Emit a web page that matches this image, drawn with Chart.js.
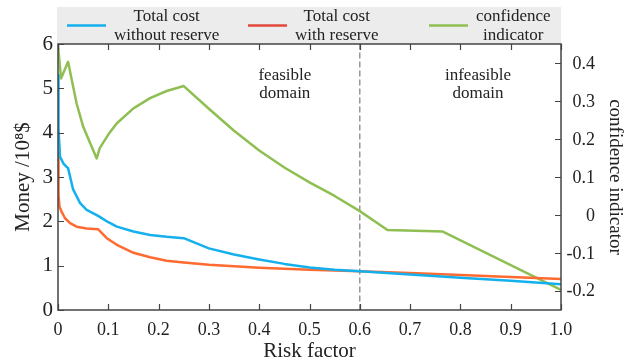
<!DOCTYPE html>
<html>
<head>
<meta charset="utf-8">
<script src="https://cdn.jsdelivr.net/npm/chart.js@4"></script>
<style>
  html, body { margin: 0; padding: 0; background: #ffffff; }
  #wrap { width: 636px; height: 364px; }
</style>
</head>
<body>
<div id="wrap"><canvas id="c" width="636" height="364"></canvas></div>
<script>
// Total cost without reserve (10^8 $) against risk factor
const riskWithout = [0, 0.001, 0.004, 0.011, 0.017, 0.02, 0.03, 0.044, 0.057, 0.077, 0.083, 0.1, 0.117, 0.15, 0.183, 0.216, 0.25, 0.3, 0.35, 0.4, 0.45, 0.5, 0.55, 0.6, 0.7, 0.8, 0.9, 1.0];
const costWithout = [5.3, 4.1, 3.46, 3.3, 3.23, 3.2, 2.72, 2.41, 2.26, 2.14, 2.1, 1.98, 1.88, 1.77, 1.69, 1.65, 1.62, 1.39, 1.25, 1.14, 1.04, 0.96, 0.91, 0.875, 0.80, 0.73, 0.66, 0.58];

// Total cost with reserve (10^8 $)
const riskWith = [0, 0.001, 0.003, 0.007, 0.014, 0.024, 0.037, 0.057, 0.08, 0.097, 0.117, 0.15, 0.183, 0.216, 0.25, 0.3, 0.35, 0.4, 0.5, 0.6, 0.7, 0.8, 0.9, 1.0];
const costWith = [3.55, 2.6, 2.33, 2.22, 2.07, 1.96, 1.88, 1.84, 1.82, 1.62, 1.47, 1.29, 1.19, 1.11, 1.07, 1.02, 0.985, 0.955, 0.91, 0.875, 0.835, 0.79, 0.745, 0.70];

// Confidence indicator (right axis)
const riskConf = [0, 0.006, 0.02, 0.037, 0.05, 0.064, 0.077, 0.083, 0.1, 0.117, 0.15, 0.183, 0.216, 0.25, 0.3, 0.35, 0.4, 0.45, 0.5, 0.55, 0.6, 0.655, 0.765, 1.0];
const confIndex = [0.448, 0.36, 0.404, 0.294, 0.233, 0.189, 0.149, 0.176, 0.212, 0.242, 0.281, 0.308, 0.327, 0.340, 0.28, 0.222, 0.17, 0.125, 0.086, 0.05, 0.01, -0.040, -0.044, -0.198];

// Boundary between feasible and infeasible domains
const boundaryRisk = 0.6;

// Tick values
const riskTicks = [0, 0.1, 0.2, 0.3, 0.4, 0.5, 0.6, 0.7, 0.8, 0.9, 1.0];
const moneyTicks = [0, 1, 2, 3, 4, 5, 6];
const confTicks = [-0.2, -0.1, 0, 0.1, 0.2, 0.3, 0.4];

// Text
const seriesLabels = ['Total cost\nwithout reserve', 'Total cost\nwith reserve', 'confidence\nindicator'];
const domainLabels = ['feasible\ndomain', 'infeasible\ndomain'];

const FONT = "'Liberation Serif', 'Times New Roman', serif";
const pairs = (xs, ys) => xs.map((x, i) => ({ x: x, y: ys[i] }));

const COLORS = {
  without: '#14b0ee',
  withRes: '#ff6a30',
  conf: '#8fbf52',
  withResLegend: '#e2493c'
};

const fmtRisk = v => (v === 1 ? '1.0' : String(Math.round(v * 10) / 10));
const fmtConf = v => String(Math.round(v * 10) / 10);
const setTicks = vals => scale => { scale.ticks = vals.map(v => ({ value: v })); };

// Frame, inward tick marks, right-hand labels, legend strip and domain captions
const decorPlugin = {
  id: 'decor',
  afterDraw(chart) {
    const { ctx, chartArea: a, scales } = chart;
    ctx.save();

    // legend strip above the plot
    ctx.fillStyle = '#ececec';
    ctx.fillRect(a.left - 1, 7, a.right - a.left + 1, a.top - 7);
    ctx.font = '17px ' + FONT;
    ctx.textBaseline = 'middle';
    ctx.textAlign = 'center';
    const items = chart.data.datasets.filter(d => !d.isGuide);
    items.forEach((ds, i) => {
      const x0 = a.left + 9 + i * 181;
      ctx.strokeStyle = ds.legendColor || ds.borderColor;
      ctx.lineWidth = 2.5;
      ctx.beginPath();
      ctx.moveTo(x0, 25.5);
      ctx.lineTo(x0 + 39, 25.5);
      ctx.stroke();
      const lines = ds.label.split('\n');
      const w = Math.max(...lines.map(t => ctx.measureText(t).width));
      const cx = x0 + 39 + 8 + w / 2;
      ctx.fillStyle = '#222';
      lines.forEach((t, j) => ctx.fillText(t, cx, 17 + j * 19));
    });

    // plot frame
    ctx.strokeStyle = '#444';
    ctx.lineWidth = 1.5;
    ctx.strokeRect(a.left, a.top, a.right - a.left, a.bottom - a.top);

    // inward tick marks
    const tl = 6;
    ctx.beginPath();
    riskTicks.forEach(v => {
      const px = Math.round(scales.x.getPixelForValue(v)) + 0.5;
      ctx.moveTo(px, a.bottom); ctx.lineTo(px, a.bottom - tl);
      ctx.moveTo(px, a.top); ctx.lineTo(px, a.top + tl);
    });
    moneyTicks.forEach(v => {
      const py = Math.round(scales.y.getPixelForValue(v)) + 0.5;
      ctx.moveTo(a.left, py); ctx.lineTo(a.left + tl, py);
    });
    confTicks.forEach(v => {
      const py = Math.round(scales.y1.getPixelForValue(v)) + 0.5;
      ctx.moveTo(a.right, py); ctx.lineTo(a.right - tl, py);
    });
    ctx.lineWidth = 1.2;
    ctx.stroke();

    // right axis tick labels, right-aligned
    ctx.font = '18px ' + FONT;
    ctx.fillStyle = '#222';
    ctx.textAlign = 'right';
    ctx.textBaseline = 'middle';
    confTicks.forEach(v => {
      ctx.fillText(fmtConf(v), a.right + 34, scales.y1.getPixelForValue(v) + 1);
    });

    // domain captions
    ctx.font = '17px ' + FONT;
    ctx.textAlign = 'center';
    const captionX = [0.451, 0.835];
    domainLabels.forEach((txt, i) => {
      const cx = scales.x.getPixelForValue(captionX[i]);
      txt.split('\n').forEach((t, j) => {
        ctx.fillText(t, cx, scales.y.getPixelForValue(5.3 - j * 0.41));
      });
    });
    ctx.restore();
  }
};

new Chart(document.getElementById('c'), {
  type: 'line',
  data: {
    datasets: [
      {
        label: seriesLabels[0],
        data: pairs(riskWithout, costWithout),
        borderColor: COLORS.without,
        borderWidth: 2.5,
        yAxisID: 'y'
      },
      {
        label: seriesLabels[1],
        data: pairs(riskWith, costWith),
        borderColor: COLORS.withRes,
        legendColor: COLORS.withResLegend,
        borderWidth: 2.5,
        yAxisID: 'y'
      },
      {
        label: seriesLabels[2],
        data: pairs(riskConf, confIndex),
        borderColor: COLORS.conf,
        borderWidth: 2.5,
        yAxisID: 'y1'
      },
      {
        label: 'boundary',
        isGuide: true,
        data: [{ x: boundaryRisk, y: 0 }, { x: boundaryRisk, y: 6 }],
        borderColor: '#888',
        borderWidth: 1.3,
        borderDash: [5, 4],
        yAxisID: 'y'
      }
    ]
  },
  options: {
    responsive: false,
    devicePixelRatio: 1,
    animation: false,
    layout: { padding: { top: 44, left: 0, right: 0, bottom: 0 } },
    elements: {
      point: { radius: 0 },
      line: { tension: 0, fill: false, borderCapStyle: 'round', borderJoinStyle: 'round' }
    },
    plugins: {
      legend: { display: false },
      tooltip: { enabled: false }
    },
    scales: {
      x: {
        type: 'linear',
        min: 0, max: 1,
        afterBuildTicks: setTicks(riskTicks),
        afterFit: s => { s.height = 54; },
        grid: { display: false, drawTicks: false },
        border: { display: false },
        ticks: { font: { family: FONT, size: 18 }, color: '#222', padding: 9, callback: fmtRisk, maxRotation: 0, autoSkip: false },
        title: { display: true, text: 'Risk factor', font: { family: FONT, size: 21 }, color: '#222', padding: { top: 0, bottom: 0 } }
      },
      y: {
        position: 'left',
        min: 0, max: 6,
        afterBuildTicks: setTicks(moneyTicks),
        afterFit: s => { s.width = 58; },
        grid: { display: false, drawTicks: false },
        border: { display: false },
        ticks: { font: { family: FONT, size: 21 }, color: '#222', padding: 5 },
        title: { display: true, text: 'Money /10⁸$', font: { family: FONT, size: 21 }, color: '#222', padding: { top: 11, bottom: 0 } }
      },
      y1: {
        position: 'right',
        min: -0.251, max: 0.451,
        afterBuildTicks: setTicks(confTicks),
        afterFit: s => { s.width = 75; },
        grid: { display: false, drawTicks: false },
        border: { display: false },
        ticks: { display: false },
        title: { display: true, text: 'confidence indicator', font: { family: FONT, size: 19 }, color: '#222', padding: { top: 10, bottom: 0 } }
      }
    }
  },
  plugins: [decorPlugin]
});
</script>
</body>
</html>
